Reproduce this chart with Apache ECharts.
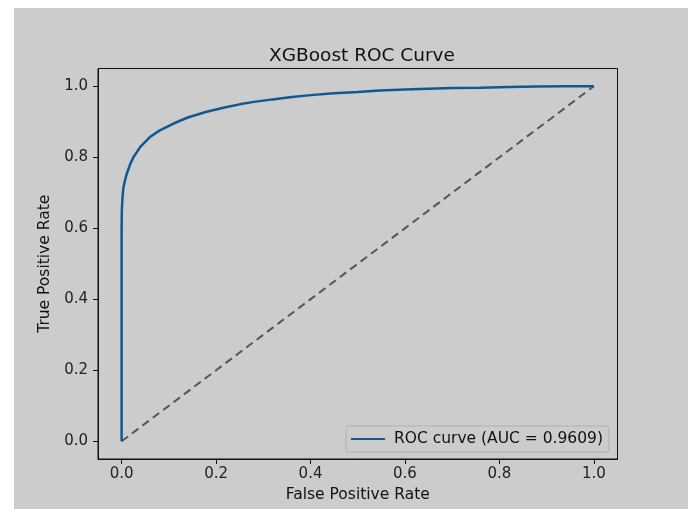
<!DOCTYPE html>
<html>
<head>
<meta charset="utf-8">
<script src="https://cdn.jsdelivr.net/npm/echarts@6/dist/echarts.min.js"></script>
<style>
  html, body { margin: 0; padding: 0; background: #ffffff; width: 688px; height: 509px; overflow: hidden; }
  #container { position: absolute; left: 14px; top: 8px; width: 674px; height: 501px; background: #cccccc; }
</style>
</head>
<body>
<div id="container"></div>
<script type="text/javascript">
// ROC curve
var fpr = [0, 0, 0, 0.0005, 0.002, 0.004, 0.01, 0.018, 0.025, 0.04, 0.06, 0.08, 0.11, 0.14, 0.18, 0.22, 0.25, 0.28, 0.32, 0.356, 0.40, 0.45, 0.50, 0.547, 0.60, 0.65, 0.70, 0.759, 0.82, 0.88, 0.94, 1.0];
var tpr = [0, 0.30, 0.60, 0.65, 0.69, 0.716, 0.75, 0.78, 0.80, 0.83, 0.857, 0.875, 0.895, 0.912, 0.928, 0.941, 0.949, 0.956, 0.963, 0.969, 0.975, 0.980, 0.984, 0.988, 0.991, 0.993, 0.995, 0.996, 0.998, 0.999, 1.0, 1.0];
var chanceLine = [[0, 0], [1, 1]];
var tickValues = [0, 0.2, 0.4, 0.6, 0.8, 1.0];
var aucLabel = 'ROC curve (AUC = 0.9609)';

var font = 'DejaVu Sans';
var rocData = [];
for (var i = 0; i < fpr.length; i++) {
    rocData.push([fpr[i], tpr[i]]);
}

var myChart = echarts.init(document.getElementById('container'));

function makeAxis(name, isX) {
    return {
        type: 'value',
        min: -0.05,
        max: 1.05,
        name: name,
        nameLocation: 'middle',
        nameGap: isX ? 26 : 40,
        nameTextStyle: { fontFamily: font, fontSize: 15.5, color: '#111' },
        axisLine: { show: true, onZero: false, lineStyle: { color: '#111', width: 1 } },
        axisTick: { show: true, inside: false, length: 5, customValues: tickValues, lineStyle: { color: '#111' } },
        axisLabel: {
            customValues: tickValues,
            margin: isX ? 8 : 10,
            fontFamily: font,
            fontSize: 15,
            color: '#222',
            formatter: function (v) { return v.toFixed(1); }
        },
        splitLine: { show: false }
    };
}

var option = {
    animation: false,
    backgroundColor: '#cccccc',
    title: {
        text: 'XGBoost ROC Curve',
        left: 343,
        top: 34,
        textAlign: 'center',
        textStyle: { fontFamily: font, fontSize: 18.5, fontWeight: 'normal', color: '#111' }
    },
    grid: {
        left: 84,
        right: 70.5,
        top: 60.5,
        bottom: 50,
        show: true,
        borderColor: '#111',
        borderWidth: 1,
        backgroundColor: 'transparent'
    },
    legend: {
        right: 79,
        top: 418,
        data: [aucLabel],
        icon: 'rect',
        itemWidth: 34,
        itemHeight: 2,
        itemGap: 8,
        padding: [5, 6, 5, 5],
        backgroundColor: '#cccccc',
        borderColor: '#b0b0b0',
        borderWidth: 1,
        borderRadius: 3,
        textStyle: { fontFamily: font, fontSize: 15.5, color: '#111', padding: [0, 0, 0, 4] }
    },
    xAxis: makeAxis('False Positive Rate', true),
    yAxis: makeAxis('True Positive Rate', false),
    series: [
        {
            name: aucLabel,
            type: 'line',
            data: rocData,
            showSymbol: false,
            smooth: false,
            z: 3,
            itemStyle: { color: '#0f5896' },
            lineStyle: { color: '#0f5896', width: 2.5 }
        },
        {
            name: 'chance',
            type: 'line',
            data: chanceLine,
            showSymbol: false,
            z: 2,
            lineStyle: { color: '#555555', width: 2, type: [8, 5] }
        }
    ]
};

myChart.setOption(option);
</script>
</body>
</html>
